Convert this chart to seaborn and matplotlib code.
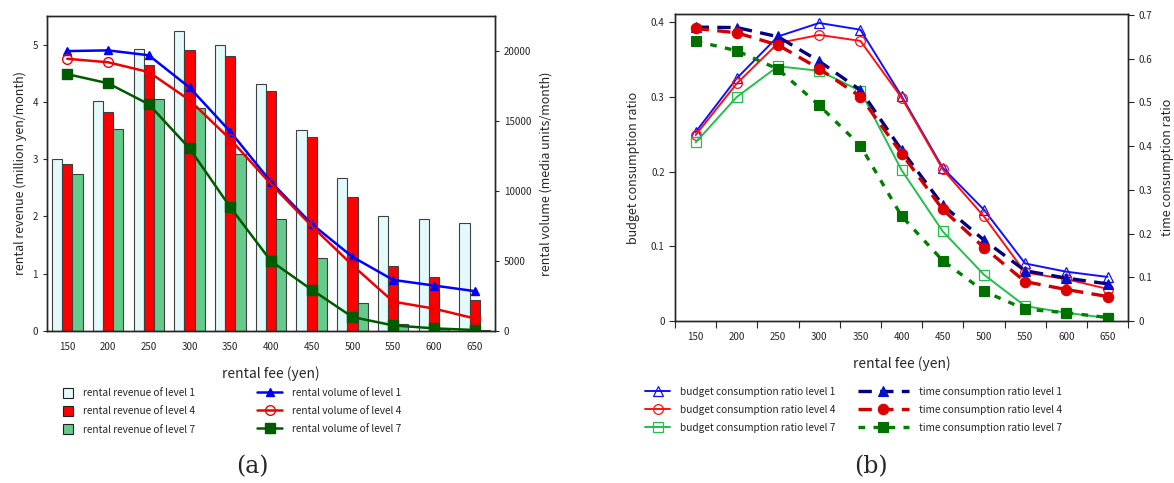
import numpy as np
import pandas as pd
import seaborn as sns
import matplotlib.pyplot as plt
from matplotlib.patches import Patch

sns.set_style("ticks")
plt.rcParams["font.family"] = ["Noto Sans CJK JP", "DejaVu Sans"]
plt.rcParams["axes.linewidth"] = 1.0

# ---- data ----
fees = ["150", "200", "250", "300", "350", "400", "450", "500", "550", "600", "650"]

# (a) rental revenue (million yen/month)
rev_lv1 = [3.00, 4.01, 4.93, 5.24, 4.99, 4.31, 3.51, 2.67, 2.00, 1.96, 1.88]
rev_lv4 = [2.91, 3.83, 4.64, 4.91, 4.80, 4.20, 3.39, 2.34, 1.14, 0.94, 0.54]
rev_lv7 = [2.74, 3.53, 4.05, 3.89, 3.09, 1.96, 1.27, 0.49, 0.13, 0.04, 0.02]

# (a) rental volume (media units/month)
vol_lv1 = [20000, 20050, 19700, 17400, 14250, 10650, 7650, 5300, 3650, 3250, 2850]
vol_lv4 = [19450, 19200, 18500, 16500, 13700, 10500, 7500, 4700, 2100, 1600, 900]
vol_lv7 = [18350, 17700, 16200, 13050, 8850, 5000, 2950, 1000, 400, 190, 70]

# (b) budget consumption ratio
bud_lv1 = [0.253, 0.325, 0.381, 0.399, 0.390, 0.301, 0.205, 0.149, 0.077, 0.066, 0.059]
bud_lv4 = [0.249, 0.318, 0.372, 0.383, 0.375, 0.299, 0.203, 0.140, 0.065, 0.056, 0.043]
bud_lv7 = [0.239, 0.300, 0.341, 0.335, 0.308, 0.202, 0.120, 0.062, 0.020, 0.011, 0.004]

# (b) time consumption ratio
tim_lv1 = [0.672, 0.671, 0.650, 0.594, 0.528, 0.391, 0.265, 0.185, 0.115, 0.098, 0.085]
tim_lv4 = [0.669, 0.659, 0.631, 0.577, 0.513, 0.383, 0.255, 0.168, 0.090, 0.072, 0.056]
tim_lv7 = [0.640, 0.618, 0.576, 0.493, 0.401, 0.240, 0.138, 0.068, 0.027, 0.019, 0.008]

levels = ["level 1", "level 4", "level 7"]
x = np.arange(len(fees))

rev_df = pd.DataFrame({
    "fee": fees * 3,
    "revenue": rev_lv1 + rev_lv4 + rev_lv7,
    "level": np.repeat(levels, len(fees)),
})

bar_colors = ["#e4fafa", "#ff0000", "#66ca8a"]
LEG_FS = 7.3

fig = plt.figure(figsize=(11.74, 4.83), dpi=100)

# ================= (a) =================
ax1 = fig.add_axes([0.040, 0.3147, 0.3816, 0.652])
sns.barplot(data=rev_df, x="fee", y="revenue", hue="level", palette=bar_colors,
            width=0.75, edgecolor="#404040", linewidth=0.8, saturation=1,
            legend=False, ax=ax1)
ax1.set_xlim(-0.5, 10.5)
ax1.set_ylim(0, 5.5)
ax1.set_yticks([0, 1, 2, 3, 4, 5])
ax1.set_xlabel("rental fee (yen)", fontsize=10, labelpad=10)
ax1.set_ylabel("rental revenue (million yen/month)", fontsize=9, labelpad=4)
ax1.tick_params(axis="x", length=0, labelsize=7, pad=8)
ax1.tick_params(axis="y", length=3, labelsize=7)

ax1r = ax1.twinx()
vol_styles = [
    (vol_lv1, "#0000ff", "^", 5.5, "#0000ff", "#0000ff"),
    (vol_lv4, "#ee0000", "o", 7, "none", "#ee0000"),
    (vol_lv7, "#005a00", "s", 6.5, "#005a00", "#005a00"),
]
vol_handles = []
for vals, col, mk, ms, mfc, mec in vol_styles:
    sns.lineplot(x=x, y=vals, color=col, linewidth=1.8, marker=mk, markersize=ms,
                 markerfacecolor=mfc, markeredgecolor=mec, markeredgewidth=1.0,
                 errorbar=None, ax=ax1r)
    vol_handles.append(ax1r.lines[-1])
ax1r.set_xlim(-0.5, 10.5)
ax1r.set_ylim(0, 22500)
ax1r.set_yticks([0, 5000, 10000, 15000, 20000])
ax1r.set_ylabel("rental volume (media units/month)", fontsize=9, labelpad=6)
ax1r.tick_params(axis="y", length=3, labelsize=7)
for sp in ax1r.spines.values():
    sp.set_visible(True)

leg_kw = dict(loc="upper left", frameon=False, fontsize=LEG_FS, borderpad=0,
              borderaxespad=0, labelspacing=0.78, handletextpad=1.0, numpoints=1)

bar_handles = [Patch(facecolor=c, edgecolor="#202020", linewidth=0.8) for c in bar_colors]
fig.legend(bar_handles,
           ["rental revenue of level 1", "rental revenue of level 4", "rental revenue of level 7"],
           bbox_to_anchor=(0.0537, 0.197), handlelength=1.0, handleheight=1.1, **leg_kw)
fig.legend(vol_handles,
           ["rental volume of level 1", "rental volume of level 4", "rental volume of level 7"],
           bbox_to_anchor=(0.2189, 0.197), handlelength=2.5, **leg_kw)
fig.text(0.215, 0.033, "(a)", family="DejaVu Serif", fontsize=17, ha="center", va="center")

# ================= (b) =================
ax2 = fig.add_axes([0.575, 0.3354, 0.3859, 0.6356])
ax2r = ax2.twinx()

bud_styles = [
    (bud_lv1, "#1010ff", "^"),
    (bud_lv4, "#ff1010", "o"),
    (bud_lv7, "#22c04a", "s"),
]
bud_handles = []
for vals, col, mk in bud_styles:
    sns.lineplot(x=x, y=vals, color=col, linewidth=1.4, marker=mk, markersize=7,
                 markerfacecolor="none", markeredgecolor=col, markeredgewidth=0.9,
                 errorbar=None, ax=ax2)
    bud_handles.append(ax2.lines[-1])

tim_styles = [
    (tim_lv1, "#000080", "^", "#0010d0", (0, (4, 2.5))),
    (tim_lv4, "#d00000", "o", "#dd0000", (0, (4, 2.5))),
    (tim_lv7, "#008000", "s", "#007000", (0, (2, 2.5))),
]
tim_handles = []
for vals, col, mk, mcol, ls in tim_styles:
    sns.lineplot(x=x, y=vals, color=col, linewidth=2.4, linestyle=ls, marker=mk,
                 markersize=7.5, markerfacecolor=mcol, markeredgecolor=mcol,
                 markeredgewidth=0.8, errorbar=None, ax=ax2r)
    tim_handles.append(ax2r.lines[-1])

for a in (ax2, ax2r):
    a.set_xlim(-0.5, 10.5)
ax2.set_ylim(0, 0.411)
ax2.set_yticks([0, 0.1, 0.2, 0.3, 0.4])
ax2.set_yticklabels(["0", "0.1", "0.2", "0.3", "0.4"])
ax2r.set_ylim(0, 0.702)
ax2r.set_yticks([0, 0.1, 0.2, 0.3, 0.4, 0.5, 0.6, 0.7])
ax2r.set_yticklabels(["0", "0.1", "0.2", "0.3", "0.4", "0.5", "0.6", "0.7"])
ax2.set_xticks(np.arange(-0.5, 11, 1))
ax2.set_xticklabels([])
ax2.set_xticks(x, minor=True)
ax2.set_xticklabels(fees, minor=True)
ax2.tick_params(axis="x", which="major", length=5)
ax2.tick_params(axis="x", which="minor", length=0, labelsize=7, pad=8)
ax2.tick_params(axis="y", length=4, labelsize=7)
ax2r.tick_params(axis="y", length=4, labelsize=7)
ax2.set_xlabel("rental fee (yen)", fontsize=10, labelpad=10)
ax2.set_ylabel("budget consumption ratio", fontsize=9, labelpad=8)
ax2r.set_ylabel("time consumption ratio", fontsize=9, labelpad=6)
for sp in ax2r.spines.values():
    sp.set_visible(True)

fig.legend(bud_handles,
           ["budget consumption ratio level 1", "budget consumption ratio level 4",
            "budget consumption ratio level 7"],
           bbox_to_anchor=(0.5494, 0.199), handlelength=2.5, **leg_kw)
fig.legend(tim_handles,
           ["time consumption ratio level 1", "time consumption ratio level 4",
            "time consumption ratio level 7"],
           bbox_to_anchor=(0.7308, 0.199), handlelength=5.0, **leg_kw)
fig.text(0.742, 0.033, "(b)", family="DejaVu Serif", fontsize=17, ha="center", va="center")

fig.savefig("out.png", dpi=100)
